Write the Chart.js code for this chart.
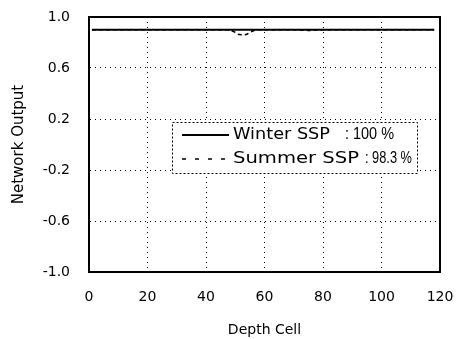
<!DOCTYPE html>
<html>
<head>
<meta charset="utf-8">
<script src="https://cdn.jsdelivr.net/npm/chart.js@4/dist/chart.umd.min.js"></script>
<style>
html,body{margin:0;padding:0;background:#fff;}
#wrap{width:456px;height:339px;}
</style>
</head>
<body>
<div id="wrap"><canvas id="c" width="456" height="339"></canvas></div>
<script>
const depthCells = [1, 5, 10, 15, 20, 25, 30, 35, 40, 45, 48, 50, 51, 52, 53, 54, 55, 57, 60, 65, 70, 75, 76, 80, 85, 90, 95, 100, 105, 110, 115, 118];
const winterSSP  = [0.90, 0.90, 0.90, 0.90, 0.90, 0.90, 0.90, 0.90, 0.90, 0.90, 0.90, 0.90, 0.90, 0.90, 0.90, 0.90, 0.90, 0.90, 0.90, 0.90, 0.90, 0.90, 0.90, 0.90, 0.90, 0.90, 0.90, 0.90, 0.90, 0.90, 0.90, 0.90];
const summerSSP  = [0.90, 0.90, 0.90, 0.90, 0.90, 0.90, 0.90, 0.90, 0.90, 0.90, 0.90, 0.88, 0.865, 0.86, 0.86, 0.865, 0.88, 0.90, 0.90, 0.90, 0.90, 0.895, 0.895, 0.90, 0.90, 0.90, 0.90, 0.90, 0.90, 0.90, 0.90, 0.90];
const seriesNames = ['Winter SSP', 'Summer SSP'];
const seriesScores = [': 100 %', ': 98.3 %'];
const xTicks = [0, 20, 40, 60, 80, 100, 120];
const yTicks = [-1.0, -0.6, -0.2, 0.2, 0.6, 1.0];

const FONT = 'DejaVu Sans, Verdana, sans-serif';
const FONT2 = 'Liberation Sans, Arial, sans-serif';

function pts(xs, ys){ return xs.map((x,i)=>({x:x, y:ys[i]})); }

function fitText(ctx, text, x, y, width){
  const w = ctx.measureText(text).width || 1;
  ctx.save();
  ctx.translate(x, y);
  ctx.scale(width / w, 1);
  ctx.fillText(text, 0, 0);
  ctx.restore();
}

const framePlugin = {
  id: 'frame',
  afterDatasetsDraw(chart){
    const a = chart.chartArea, ctx = chart.ctx;
    ctx.save();
    ctx.strokeStyle = '#000';
    ctx.lineWidth = 2;
    ctx.strokeRect(a.left, a.top, a.right - a.left, a.bottom - a.top);
    // legend box
    const xs = chart.scales.x, ys = chart.scales.y;
    const bx = Math.round(xs.getPixelForValue(28.4)), by = Math.round(ys.getPixelForValue(0.18));
    const bw = 245, bh = 51;
    ctx.fillStyle = '#fff';
    ctx.fillRect(bx, by, bw, bh);
    ctx.lineWidth = 1;
    ctx.setLineDash([2, 2]);
    ctx.strokeRect(bx + 0.5, by + 0.5, bw, bh);
    ctx.setLineDash([]);
    ctx.fillStyle = '#000';
    ctx.textBaseline = 'middle';
    ctx.textAlign = 'left';
    const rows = [by + 13, by + 37];
    // samples
    ctx.lineWidth = 2;
    ctx.beginPath(); ctx.moveTo(bx + 10, rows[0]); ctx.lineTo(bx + 57, rows[0]); ctx.stroke();
    ctx.lineWidth = 1.5;
    ctx.setLineDash([4, 9]);
    ctx.beginPath(); ctx.moveTo(bx + 10, rows[1]); ctx.lineTo(bx + 57, rows[1]); ctx.stroke();
    ctx.setLineDash([]);
    ctx.font = '16px ' + FONT;
    fitText(ctx, seriesNames[0], bx + 61, rows[0], 97);
    fitText(ctx, seriesNames[1], bx + 61, rows[1], 126);
    ctx.font = '16px ' + FONT2;
    fitText(ctx, seriesScores[0], bx + 173, rows[0], 49);
    fitText(ctx, seriesScores[1], bx + 193, rows[1], 47);
    ctx.restore();
  }
};

new Chart(document.getElementById('c'), {
  type: 'line',
  data: {
    datasets: [
      {
        label: seriesNames[0],
        data: pts(depthCells, winterSSP),
        borderColor: '#000',
        borderWidth: 2,
        pointRadius: 0,
        tension: 0,
        fill: false
      },
      {
        label: seriesNames[1],
        data: pts(depthCells, summerSSP),
        borderColor: '#000',
        borderWidth: 1.5,
        borderDash: [4, 3],
        pointRadius: 0,
        tension: 0,
        fill: false
      }
    ]
  },
  options: {
    responsive: false,
    animation: false,
    layout: { padding: { top: 17, right: 16, left: 0, bottom: 0 } },
    plugins: { legend: { display: false }, tooltip: { enabled: false } },
    scales: {
      x: {
        type: 'linear',
        min: 0, max: 120,
        afterBuildTicks(s){ s.ticks = xTicks.map(v=>({value:v})); },
        afterFit(s){ s.height = 67; s.paddingLeft = 0; s.paddingRight = 0; },
        ticks: { color: '#000', font: { family: FONT, size: 14 }, padding: 17, maxRotation: 0 },
        grid: {
          drawTicks: false,
          color: (c) => (c.tick && (c.tick.value === 0 || c.tick.value === 120)) ? 'rgba(0,0,0,0)' : '#000',
          lineWidth: 1
        },
        border: { display: true, color: '#000', width: 2, dash: [1, 4] },
        title: { display: true, text: 'Depth Cell', color: '#000', font: { family: FONT, size: 14 }, padding: { top: 2, bottom: 0 } }
      },
      y: {
        type: 'linear',
        min: -1, max: 1,
        afterBuildTicks(s){ s.ticks = yTicks.map(v=>({value:v})); },
        afterFit(s){ s.width = 89; s.paddingTop = 0; s.paddingBottom = 0; },
        ticks: { color: '#000', font: { family: FONT, size: 14 }, padding: 19, callback: (v) => Number(v).toFixed(1) },
        grid: {
          drawTicks: false,
          color: (c) => (c.tick && (Math.abs(c.tick.value) > 0.99)) ? 'rgba(0,0,0,0)' : '#000',
          lineWidth: 1
        },
        border: { display: true, color: '#000', width: 2, dash: [1, 4] },
        title: { display: true, text: 'Network Output', color: '#000', font: { family: FONT, size: 15 }, padding: { top: 10, bottom: 0 } }
      }
    }
  },
  plugins: [framePlugin]
});
</script>
</body>
</html>
